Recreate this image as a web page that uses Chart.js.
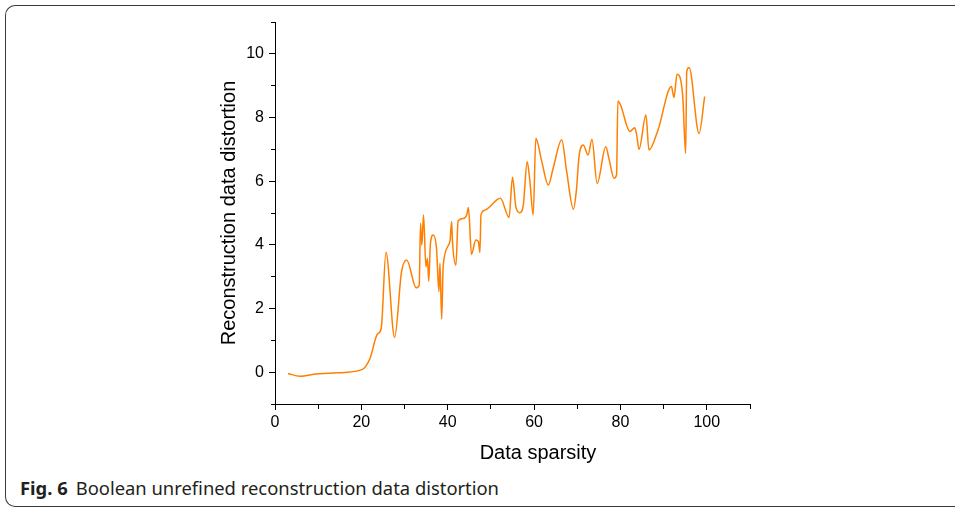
<!DOCTYPE html>
<html>
<head>
<meta charset="utf-8">
<script src="https://cdn.jsdelivr.net/npm/chart.js@4.4.1/dist/chart.umd.min.js"></script>
<style>
  html, body { margin: 0; padding: 0; background: #fff; width: 955px; height: 508px; overflow: hidden; }
  #frame { position: absolute; left: 5px; top: 5px; width: 1000px; height: 502px;
    border: 1px solid #3a3a3a; border-right: none; border-radius: 10px 0 0 10px; box-sizing: border-box; }
  #chartWrap { position: absolute; left: 0; top: 0; width: 955px; height: 464px; }
  #xTitle { position: absolute; left: 538px; top: 442px; transform: translateX(-50%);
    font: 20px "Liberation Sans", Arial, sans-serif; line-height: 20px; color: #000; white-space: nowrap; }
  #caption { position: absolute; left: 20px; top: 479px; font: 18.4px "Noto Sans", "Open Sans", sans-serif;
    line-height: 18px; color: #231f20; white-space: nowrap; }
  #caption b { font-weight: 700; margin-right: 8px; }
</style>
</head>
<body>
<div id="frame"></div>
<div id="chartWrap"><canvas id="c" width="955" height="464"></canvas></div>
<div id="xTitle">Data sparsity</div>
<div id="caption"><b>Fig. 6</b>Boolean unrefined reconstruction data distortion</div>
<script>
// ---- data ----
const sparsity = [3.0, 5.8, 9.6, 14.3, 20.1, 22.0, 23.7, 24.6, 25.7, 27.7, 29.3, 30.5, 32.7, 33.4, 33.7, 34.0, 34.4, 34.95, 35.3, 35.6,
  36.0, 36.65, 37.4, 37.96, 38.2, 38.6, 38.96, 40.5, 40.9, 41.1, 41.9, 42.4, 43.6, 44.4, 44.8, 45.5, 46.5, 47.1, 47.45, 47.7,
  48.6, 52.2, 54.2, 55.0, 55.8, 56.7, 57.5, 58.4, 59.0, 59.8, 60.4, 61.7, 63.3, 64.4, 66.4, 67.5, 69.1, 69.8, 70.4, 71.4,
  72.5, 73.4, 74.6, 76.6, 77.4, 78.5, 79.1, 79.4, 80.0, 82.2, 83.3, 83.7, 84.3, 85.9, 86.6, 88.7, 91.8, 92.4, 93.1, 94.4,
  95.1, 95.35, 95.9, 98.2, 99.5];
const distortion = [-0.04, -0.13, -0.06, -0.02, 0.08, 0.43, 1.19, 1.38, 3.77, 1.09, 3.15, 3.52, 2.65, 2.74, 4.68, 3.99, 4.94, 3.31, 3.57, 2.86,
  4.05, 4.31, 3.89, 2.53, 3.42, 1.67, 3.36, 4.1, 4.73, 4.1, 3.36, 4.75, 4.83, 4.94, 5.17, 3.70, 4.15, 4.1, 3.76, 4.94,
  5.09, 5.46, 4.86, 6.12, 5.18, 5.01, 5.25, 6.61, 6.04, 4.94, 7.35, 6.67, 5.88, 6.4, 7.3, 6.35, 5.12, 5.72, 6.77, 7.14,
  6.82, 7.32, 5.93, 7.08, 6.67, 6.09, 6.2, 8.52, 8.4, 7.56, 7.68, 7.5, 7.0, 8.08, 6.98, 7.61, 8.97, 8.63, 9.36, 8.71,
  6.88, 9.45, 9.57, 7.5, 8.66];
const xTickLabels = [0, 20, 40, 60, 80, 100];
const yTickLabels = [0, 2, 4, 6, 8, 10];
const xTitle = 'Data sparsity';
const yTitle = 'Reconstruction data distortion';

const points = sparsity.map((x, i) => ({ x: x, y: distortion[i] }));
const tickFont = { family: '"Liberation Sans", Arial, sans-serif', size: 16 };

new Chart(document.getElementById('c'), {
  type: 'line',
  data: { datasets: [{ data: points, borderColor: '#ff7f00', borderWidth: 1.5, pointRadius: 0,
    cubicInterpolationMode: 'monotone', fill: false }] },
  options: {
    responsive: false, animation: false, devicePixelRatio: 1,
    layout: { padding: { left: 217, top: 22, right: 205, bottom: 0 } },
    plugins: { legend: { display: false }, tooltip: { enabled: false } },
    scales: {
      x: {
        type: 'linear', min: 0, max: 110,
        afterFit: s => { s.height = 60; },
        border: { display: true, color: '#000', width: 1 },
        grid: { drawOnChartArea: false, drawTicks: true, tickLength: 6, color: '#000', lineWidth: 1,
          tickBorderDash: ctx => (ctx.tick && xTickLabels.includes(ctx.tick.value)) ? [] : [4, 100] },
        ticks: { stepSize: 10, autoSkip: false, maxRotation: 0, padding: 3, color: '#000', font: tickFont,
          callback: v => xTickLabels.includes(v) ? String(v) : '' }
      },
      y: {
        type: 'linear', min: -1, max: 11,
        afterFit: s => { s.width = 58; },
        border: { display: true, color: '#000', width: 1 },
        grid: { drawOnChartArea: false, drawTicks: true, tickLength: 6, color: '#000', lineWidth: 1,
          tickBorderDash: ctx => (ctx.tick && yTickLabels.includes(ctx.tick.value)) ? [] : [0, 2, 4, 100] },
        ticks: { stepSize: 1, autoSkip: false, padding: 5, color: '#000', font: tickFont,
          callback: v => yTickLabels.includes(v) ? String(v) : '' },
        title: { display: true, text: yTitle, color: '#000', padding: { top: 0, bottom: 0 },
          font: { family: '"Liberation Sans", Arial, sans-serif', size: 20 } }
      }
    }
  }
});
</script>
</body>
</html>
